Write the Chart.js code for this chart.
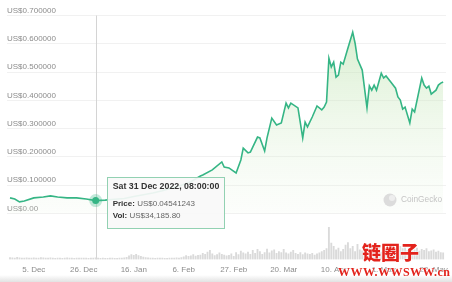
<!DOCTYPE html>
<html><head><meta charset="utf-8">
<script src="https://cdn.jsdelivr.net/npm/chart.js@4.4.0/dist/chart.umd.min.js"></script>
<style>
html,body{margin:0;padding:0;width:452px;height:282px;overflow:hidden;font-family:"Liberation Sans",Arial,sans-serif;}
body{background:linear-gradient(to bottom,#fff 0,#fff 275px,#e2e2e2 282px);}
#wrap{position:relative;width:452px;height:282px;}
canvas{position:absolute;left:0;top:0;}
#tt{position:absolute;box-sizing:border-box;width:118px;height:52px;background:rgba(248,248,248,0.92);border:1px solid #92d1b2;padding:3px 5px 0 5px;pointer-events:none;opacity:0;white-space:nowrap;}
#tt .t{font-weight:bold;font-size:8.8px;line-height:11px;color:#333;margin-bottom:6px;}
#tt .b{font-size:8px;line-height:12px;color:#666;}
#tt .b b{color:#333;}
#wm1{position:absolute;left:362px;top:241px;font-family:"Noto Sans CJK SC",sans-serif;font-weight:900;font-size:19px;line-height:22px;color:#e3231c;text-shadow:0 0 2px #fff,0 0 2px #fff;}
#wm2{position:absolute;left:338px;top:265px;font-family:"Liberation Serif","DejaVu Serif",serif;font-weight:bold;font-size:12px;line-height:14px;color:#e3231c;letter-spacing:0.5px;text-shadow:0 0 2px #fff,0 0 2px #fff;}
</style></head>
<body>
<div id="wrap">
<canvas id="c" width="452" height="282"></canvas>
<div id="tt"></div>
<div id="wm1">链圈子</div>
<div id="wm2">WWW.WWSWW.cn</div>
</div>
<script>
// ---- data ----
const startDateUTC = Date.UTC(2022, 10, 25, 8, 0, 0); // day 0
const priceDays = [0,2,4,6,10,14,17,20,24,28,32,36,40,44,48,52,56,60,64,68,72,76,80,81,85,89,90,92,95,97,98,100,101,104,105,107,108,110,112,114,116,117,118,121,123,124,125,127,129,131,132,133,134,135,136,137,138,139,140,142,144,145,146,148,150,151,152,153,154,156,157,158,160,162,163,164,165,166,168,169,170,173,174,175,176,177,179,180,181,182];
const priceValues = [0.055,0.051,0.041,0.044,0.055,0.058,0.062,0.058,0.055,0.055,0.051,0.04541243,0.047,0.050,0.053,0.060,0.066,0.072,0.080,0.090,0.100,0.112,0.1325,0.136,0.154,0.182,0.164,0.161,0.143,0.189,0.231,0.214,0.217,0.270,0.267,0.221,0.267,0.337,0.313,0.320,0.390,0.373,0.390,0.373,0.267,0.323,0.306,0.341,0.380,0.366,0.376,0.394,0.549,0.518,0.535,0.482,0.489,0.535,0.528,0.585,0.641,0.602,0.546,0.507,0.373,0.451,0.436,0.454,0.436,0.496,0.479,0.486,0.465,0.443,0.412,0.401,0.369,0.376,0.320,0.369,0.359,0.479,0.454,0.443,0.450,0.422,0.436,0.454,0.461,0.465];
// daily volume, thousands of US$ (day 0 .. 182)
const volumeK = [
40,35,30,45,38,32,30,36,28,30,
34,30,28,40,36,32,30,34,29,27,
30,28,26,32,35,30,28,26,30,31,
28,30,33,27,30,32,34.1858,30,26,28,
25,27,30,28,26,24,28,30,35,45,
80,110,95,120,90,70,55,40,35,30,
28,26,30,32,28,25,27,30,28,32,
35,30,40,60,90,70,85,110,75,95,
100,140,120,170,210,130,90,110,150,120,
100,85,95,130,70,160,110,190,150,130,
170,120,210,140,230,180,120,160,240,150,
200,220,140,180,160,230,150,130,170,210,
140,120,160,110,150,130,120,140,100,130,
150,180,210,250,740,380,300,220,260,180,
230,330,390,250,300,180,350,220,200,260,
300,240,350,180,220,250,170,200,230,190,
210,260,180,230,300,250,270,210,240,200,
220,260,190,230,210,250,180,200,220,170,
190,160,150];
const tickDays = [10,31,52,73,94,115,136,157,178];
const tickLabels = ['5. Dec','26. Dec','16. Jan','6. Feb','27. Feb','20. Mar','10. Apr','1. May','22. May'];
const priceTicks = [0,0.1,0.2,0.3,0.4,0.5,0.6,0.7];
const activeDay = 36;

// ---- helpers ----
const DAYS = ['Sun','Mon','Tue','Wed','Thu','Fri','Sat'];
const MONS = ['Jan','Feb','Mar','Apr','May','Jun','Jul','Aug','Sep','Oct','Nov','Dec'];
const p2 = n => String(n).padStart(2,'0');
function fmtDate(day){
  const d = new Date(startDateUTC + day*86400000);
  return `${DAYS[d.getUTCDay()]} ${d.getUTCDate()} ${MONS[d.getUTCMonth()]} ${d.getUTCFullYear()}, ${p2(d.getUTCHours())}:${p2(d.getUTCMinutes())}:${p2(d.getUTCSeconds())}`;
}
function fmtVol(k){
  return (k*1000).toLocaleString('en-US',{minimumFractionDigits:2,maximumFractionDigits:2});
}

const LINE = '#35b585';

const crosshair = {
  id:'crosshair',
  beforeDatasetsDraw(chart){
    const act = chart.getActiveElements();
    if(!act.length) return;
    const x = Math.round(act[0].element.x)+0.5;
    const {ctx, chartArea} = chart;
    ctx.save();
    ctx.strokeStyle = '#d4d4d4'; ctx.lineWidth = 1;
    ctx.beginPath(); ctx.moveTo(x, chartArea.top); ctx.lineTo(x, chartArea.bottom); ctx.stroke();
    ctx.restore();
  }
};
const gecko = {
  id:'gecko',
  afterDatasetsDraw(chart){
    const {ctx} = chart;
    ctx.save();
    ctx.fillStyle = '#dcdcdc';
    ctx.beginPath(); ctx.arc(390,200,6.5,0,Math.PI*2); ctx.fill();
    ctx.fillStyle = '#eeeeee';
    ctx.beginPath(); ctx.arc(392,198,3,0,Math.PI*2); ctx.fill();
    ctx.fillStyle = '#c4c4c4';
    ctx.font = '8.3px "Liberation Sans", Arial, sans-serif';
    ctx.textBaseline = 'middle';
    ctx.fillText('CoinGecko', 401, 200);
    ctx.restore();
  }
};

const chart = new Chart(document.getElementById('c'), {
  type:'line',
  data:{
    datasets:[
      {
        type:'line', label:'Price', yAxisID:'y', order:1,
        data: priceDays.map((d,i)=>({x:d, y:priceValues[i]})),
        borderColor: LINE, borderWidth:1.6, tension:0,
        pointRadius:0, pointHoverRadius:3.5,
        pointHoverBackgroundColor: LINE,
        pointHoverBorderColor:'rgba(53,181,133,0.3)', pointHoverBorderWidth:6,
        fill:'origin',
        backgroundColor:(c)=>{
          const {chart} = c; const {ctx, chartArea, scales} = chart;
          if(!chartArea) return 'rgba(0,0,0,0)';
          const y0 = scales.y.getPixelForValue(0);
          const g = ctx.createLinearGradient(0, chartArea.top, 0, y0);
          g.addColorStop(0,'rgba(178,222,160,0.55)');
          g.addColorStop(1,'rgba(235,246,230,0.15)');
          return g;
        }
      },
      {
        type:'bar', label:'Volume', yAxisID:'yv', order:2,
        data: volumeK.map((v,i)=>({x:i, y:v})),
        backgroundColor:'#dadada', barThickness:1.2
      }
    ]
  },
  options:{
    responsive:false, animation:false, events:[],
    layout:{padding:{left:7,right:6,top:15.5,bottom:1}},
    plugins:{
      legend:{display:false},
      tooltip:{
        enabled:false, mode:'nearest', intersect:false,
        filter:(item)=>item.datasetIndex===0,
        external:(context)=>{
          const {tooltip} = context;
          const el = document.getElementById('tt');
          if(tooltip.opacity===0 || !tooltip.dataPoints || !tooltip.dataPoints.length){ el.style.opacity=0; return; }
          const i = tooltip.dataPoints[0].dataIndex;
          const day = priceDays[i];
          el.innerHTML = `<div class="t">${fmtDate(day)}</div><div class="b"><b>Price:</b> US$${priceValues[i]}</div><div class="b"><b>Vol:</b> US$${fmtVol(volumeK[day])}</div>`;
          el.style.left = (tooltip.caretX + 11) + 'px';
          el.style.top = (tooltip.caretY - 24) + 'px';
          el.style.opacity = 1;
        }
      }
    },
    scales:{
      x:{
        type:'linear', min:-1.26, max:183.2, offset:false,
        grid:{display:false, drawTicks:false}, border:{display:false},
        afterBuildTicks:(s)=>{ s.ticks = tickDays.map(v=>({value:v})); },
        afterFit:(s)=>{ s.paddingLeft = 0; s.paddingRight = 0; },
        ticks:{
          autoSkip:false, maxRotation:0, padding:6,
          color:'#8c8c8c', font:{size:8, family:'"Liberation Sans", Arial, sans-serif'},
          callback:(v)=>{ const k = tickDays.indexOf(v); return k>=0 ? tickLabels[k] : ''; }
        }
      },
      y:{
        type:'linear', position:'left', min:-0.1626, max:0.7,
        afterBuildTicks:(s)=>{ s.ticks = priceTicks.map(v=>({value:v})); },
        afterFit:(s)=>{ s.paddingTop = 0; s.paddingBottom = 0; s.width = 0; },
        grid:{color:'#f1f1f1', drawTicks:false}, border:{display:false},
        ticks:{
          mirror:true, padding:0, labelOffset:-5,
          color:'#8c8c8c', font:{size:8, family:'"Liberation Sans", Arial, sans-serif'},
          callback:(v)=> v===0 ? 'US$0.00' : 'US$' + v.toFixed(6)
        }
      },
      yv:{
        type:'linear', display:false, min:0, max:5640
      }
    }
  },
  plugins:[crosshair, gecko]
});

const idx = priceDays.indexOf(activeDay);
const pt = chart.getDatasetMeta(0).data[idx];
chart.setActiveElements([{datasetIndex:0, index:idx}]);
chart.tooltip.setActiveElements([{datasetIndex:0, index:idx}], {x:pt.x, y:pt.y});
chart.update();
</script>
</body></html>
